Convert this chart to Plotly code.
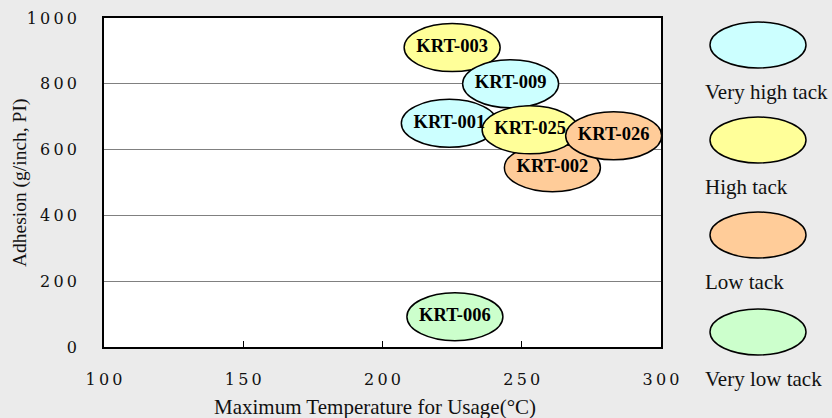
import plotly.graph_objects as go

# ---- data ----
products = ["KRT-003", "KRT-009", "KRT-001", "KRT-002", "KRT-025", "KRT-026", "KRT-006"]
max_temp = [225, 246, 224, 261, 253, 283, 226]
adhesion = [910, 800, 680, 545, 660, 642, 92]
tack_class = ["High tack", "Very high tack", "Very high tack", "Low tack",
              "High tack", "Low tack", "Very low tack"]

legend_classes = ["Very high tack", "High tack", "Low tack", "Very low tack"]
class_colors = {"Very high tack": "#CCFFFF", "High tack": "#FFFF99",
                "Low tack": "#FFCC99", "Very low tack": "#CCFFCC"}

x_ticks = [100, 150, 200, 250, 300]
y_ticks = [0, 200, 400, 600, 800, 1000]

SERIF = "Liberation Serif, Times New Roman, serif"
TICKFONT = "DejaVu Serif, serif"

fig = go.Figure()

# labels (drawn above the ellipses)
fig.add_trace(go.Scatter(
    x=max_temp, y=adhesion, mode="text", text=products,
    textfont=dict(family=SERIF, size=18.5, color="black", weight="bold"),
    textposition="middle center", hoverinfo="skip", showlegend=False,
))

shapes = []
for xv, yv, cls in zip(max_temp, adhesion, tack_class):
    shapes.append(dict(
        type="circle", xref="x", yref="y",
        xsizemode="pixel", ysizemode="pixel",
        xanchor=xv, yanchor=yv, x0=-48, x1=48, y0=-24, y1=24,
        fillcolor=class_colors[cls], line=dict(color="black", width=1.5),
        layer="between",
    ))

# legend ellipses + labels in paper coords
plot_w, plot_h = 557.0, 329.0
leg_centers_px = [45, 140, 235, 332]
for cls, cy in zip(legend_classes, leg_centers_px):
    yc = (347 - cy) / plot_h
    shapes.append(dict(
        type="circle", xref="paper", yref="paper",
        x0=(710 - 104) / plot_w, x1=(806 - 104) / plot_w,
        y0=yc - 23 / plot_h, y1=yc + 23 / plot_h,
        fillcolor=class_colors[cls], line=dict(color="black", width=1.5),
        layer="above",
    ))
    fig.add_annotation(
        xref="paper", yref="paper", x=(703 - 104) / plot_w, y=(347 - (cy + 47)) / plot_h,
        text=cls, showarrow=False, xanchor="left", yanchor="middle",
        font=dict(family=SERIF, size=21, color="#111"),
    )

# axis titles
fig.add_annotation(
    xref="paper", yref="paper", x=(375 - 104) / plot_w, y=(347 - 407) / plot_h,
    text="Maximum Temperature for Usage(°C)", showarrow=False,
    xanchor="center", yanchor="middle", font=dict(family=SERIF, size=21, color="#111"),
)
fig.add_annotation(
    xref="paper", yref="paper", x=(20 - 104) / plot_w, y=(347 - 183) / plot_h,
    text="Adhesion (g/inch, PI)", showarrow=False, textangle=-90,
    xanchor="center", yanchor="middle", font=dict(family=SERIF, size=19.5, color="#111"),
)

spaced = lambda v: "\u2009".join(str(v))

fig.update_layout(
    width=832, height=418,
    margin=dict(l=104, r=171, t=18, b=71, autoexpand=False),
    paper_bgcolor="#EBEBEB", plot_bgcolor="white",
    shapes=shapes, showlegend=False,
    font=dict(family=SERIF, color="#111"),
)
fig.update_xaxes(
    range=[100, 300], tickvals=x_ticks, ticktext=[spaced(v) for v in x_ticks],
    showgrid=False, zeroline=False, showline=True, linecolor="black", linewidth=1.5,
    mirror=True, ticks="inside", ticklen=6, tickcolor="black",
    tickfont=dict(family=TICKFONT, size=16, color="#111"), ticklabelstandoff=17, automargin=False,
)
fig.update_yaxes(
    range=[0, 1000], tickvals=y_ticks, ticktext=[spaced(v) for v in y_ticks],
    showgrid=True, gridcolor="#808080", gridwidth=1, zeroline=False,
    showline=True, linecolor="black", linewidth=1.5, mirror=True, ticks="",
    tickfont=dict(family=TICKFONT, size=16, color="#111"), ticklabelstandoff=22, automargin=False,
)

fig.write_html("out.html", config={"displayModeBar": False},
               post_script="document.body.style.margin='0';")
